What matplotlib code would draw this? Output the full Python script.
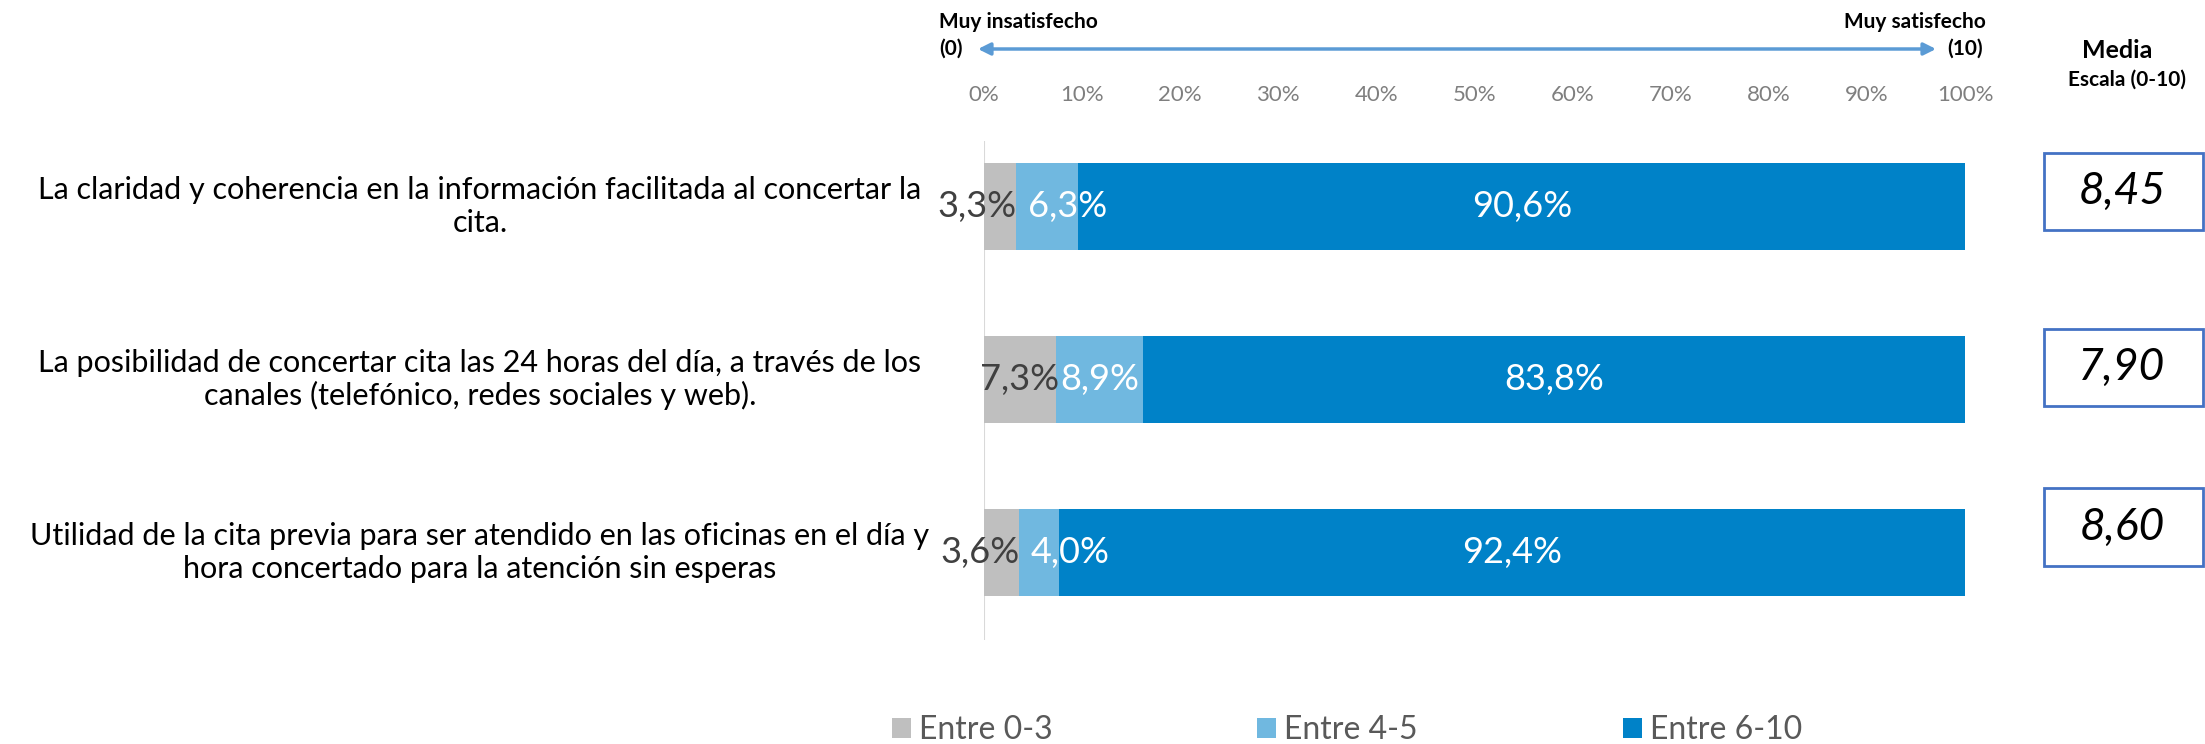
import matplotlib
matplotlib.use("Agg")
import matplotlib.pyplot as plt
from matplotlib.patches import Patch, Rectangle
from matplotlib.transforms import blended_transform_factory
import numpy as np

# --- datos ---
categorias = [
    "La claridad y coherencia en la información facilitada al concertar la\ncita.",
    "La posibilidad de concertar cita las 24 horas del día, a través de los\ncanales (telefónico, redes sociales y web).",
    "Utilidad de la cita previa para ser atendido en las oficinas en el día y\nhora concertado para la atención sin esperas",
]
entre_0_3 = [3.3, 7.3, 3.6]
entre_4_5 = [6.3, 8.9, 4.0]
entre_6_10 = [90.6, 83.8, 92.4]
medias = [8.45, 7.90, 8.60]
series_nombres = ["Entre 0-3", "Entre 4-5", "Entre 6-10"]
ticks = [0, 10, 20, 30, 40, 50, 60, 70, 80, 90, 100]

colores = ["#BFBFBF", "#70B8E0", "#0082C8"]
colores_texto = ["#404040", "white", "white"]
FUENTE = "Lato"

plt.rcParams["font.family"] = [FUENTE, "DejaVu Sans"]

fig = plt.figure(figsize=(22.05, 7.44), dpi=100)
ax = fig.add_axes([984 / 2205, 1 - 640 / 744, (1965 - 984) / 2205, (640 - 141) / 744])

y = np.arange(len(categorias))
izq = np.zeros(len(categorias))
for k, (vals, col, ctxt) in enumerate(zip([entre_0_3, entre_4_5, entre_6_10], colores, colores_texto)):
    vals = np.array(vals)
    ax.barh(y, vals, left=izq, height=0.503, color=col, zorder=2)
    for yi, l, v in zip(y, izq, vals):
        txt = f"{v:.1f}%".replace(".", ",")
        # segmentos estrechos: la etiqueta se aparta para no pisar la vecina
        if v < 5 or (k == 1 and l < 5):
            if k == 0:
                x, ha = l + v, "right"
            else:
                x, ha = l + 1.2, "left"
        else:
            x, ha = l + v / 2, "center"
        ax.text(x, yi, txt, ha=ha, va="center", color=ctxt, fontsize=26, zorder=3)
    izq = izq + vals

ax.set_xlim(0, 100)
ax.set_ylim(2.506, -0.379)
ax.axvline(0, color="#D9D9D9", lw=1.5, zorder=1)
for s in ax.spines.values():
    s.set_visible(False)
ax.set_yticks([])
ax.xaxis.set_ticks_position("top")
ax.set_xticks(ticks)
ax.set_xticklabels([f"{t}%" for t in ticks])
ax.tick_params(axis="x", length=0, pad=26, labelsize=16, labelcolor="#7F7F7F")

# etiquetas de categoría centradas a la izquierda
tr = blended_transform_factory(fig.transFigure, ax.transData)
for yi, txt in zip(y, categorias):
    ax.text(480 / 2205, yi, txt, transform=tr, ha="center", va="center",
            multialignment="center", fontsize=22, color="black", linespacing=1.2)

# escala superior con flecha
fig.text(939 / 2205, 1 - 22 / 744, "Muy insatisfecho", ha="left", va="center",
         fontsize=15, fontweight="bold")
fig.text(939 / 2205, 1 - 49 / 744, "(0)", ha="left", va="center",
         fontsize=15, fontweight="bold")
fig.text(1986 / 2205, 1 - 22 / 744, "Muy satisfecho", ha="right", va="center",
         fontsize=15, fontweight="bold")
fig.text(1983 / 2205, 1 - 49 / 744, "(10)", ha="right", va="center",
         fontsize=15, fontweight="bold")
ax.annotate("", xy=(978 / 2205, 1 - 49 / 744), xytext=(1936 / 2205, 1 - 49 / 744),
            xycoords="figure fraction", textcoords="figure fraction",
            arrowprops=dict(arrowstyle="<|-|>", color="#5B9BD5", lw=2.5,
                            mutation_scale=18, shrinkA=0, shrinkB=0))

# columna de medias
fig.text(2117 / 2205, 1 - 51 / 744, "Media", ha="center", va="center",
         fontsize=18, fontweight="bold")
fig.text(2127 / 2205, 1 - 80 / 744, "Escala (0-10)", ha="center", va="center",
         fontsize=15, fontweight="bold")
cajas = [(153, 230), (329, 406), (488, 566)]
for (top, bot), m in zip(cajas, medias):
    fig.patches.append(Rectangle((2044 / 2205, 1 - bot / 744), (2203 - 2044) / 2205,
                                 (bot - top) / 744, transform=fig.transFigure,
                                 fill=False, edgecolor="#4472C4", lw=2))
    fig.text(2122 / 2205, 1 - (top + bot) / 2 / 744, f"{m:.2f}".replace(".", ","),
             ha="center", va="center", fontsize=32, style="italic")

# leyenda
handles = [Patch(facecolor=c, edgecolor="none") for c in colores]
fig.legend(handles, series_nombres, loc="center", bbox_to_anchor=(1347 / 2205, 1 - 730 / 744),
           ncol=3, frameon=False, fontsize=23, labelcolor="#595959",
           handlelength=0.6, handleheight=0.6, handletextpad=0.25, columnspacing=6.4)

fig.savefig("out.png", dpi=100)
